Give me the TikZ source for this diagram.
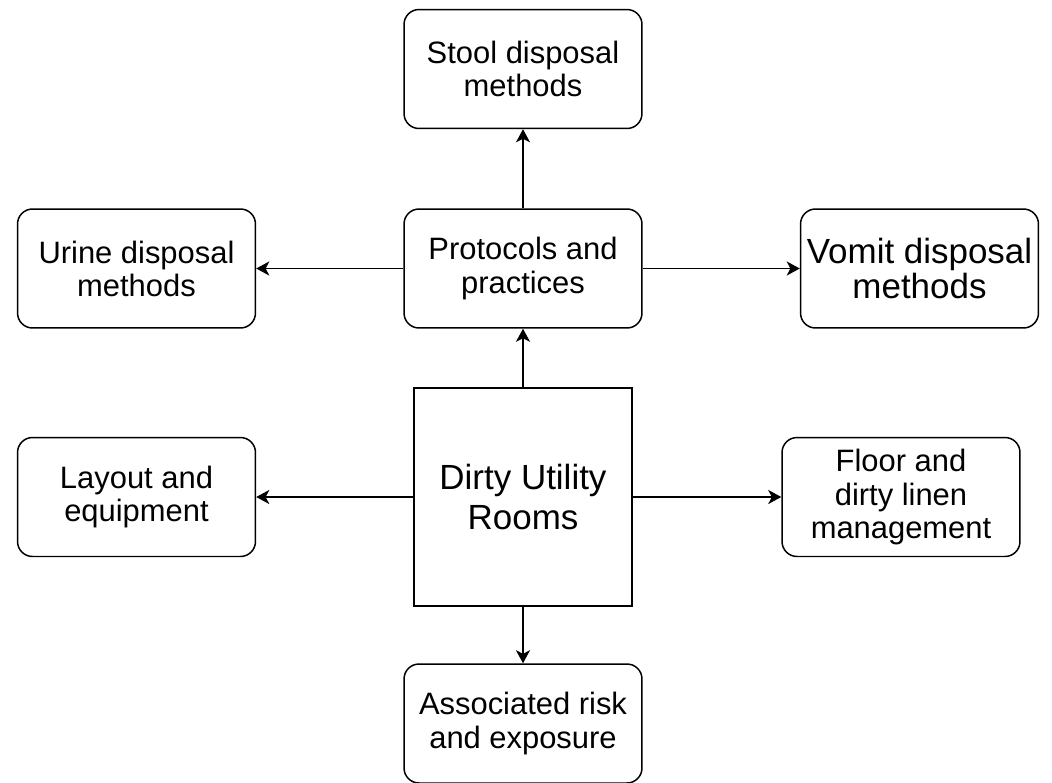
\documentclass[tikz,border=0pt]{standalone}
\usepackage{fontspec}
\setmainfont{Liberation Sans}
\usetikzlibrary{arrows.meta}
\begin{document}
\begin{tikzpicture}[x=0.02cm,y=-0.02cm,
		topic/.style={draw,rounded corners=0.3cm,line width=0.85pt,inner sep=2pt,
			minimum width=4.76cm,minimum height=2.38cm,align=center,
			font=\fontsize{17.6}{18.8}\selectfont},
		conn/.style={-{Stealth[length=0.26cm,width=0.28cm,inset=0.07cm]},line width=0.85pt}]
		\useasboundingbox (0,0) rectangle (1052,782);
		
		\node[draw,line width=0.85pt,minimum size=4.36cm,align=center,
			font=\fontsize{19.9}{22.8}\selectfont] (rooms) at (523,497) {Dirty Utility\\Rooms};
		
		\node[topic] (stool) at (523,69) {Stool disposal\\methods};
		\node[topic] (protocols) at (523,268.5) {Protocols and\\practices};
		\node[topic] (urine) at (136.5,268.5) {Urine disposal\\methods};
		\node[topic,font=\fontsize{19.9}{19.9}\selectfont] (vomit) at (919.5,268.5) {Vomit disposal\\methods};
		\node[topic] (layout) at (136.5,497) {Layout and\\equipment};
		\node[topic] (floor) at (901,497) {Floor and\\dirty linen\\management};
		\node[topic] (risk) at (523,723.5) {Associated risk\\and exposure};
		
		\draw[conn] (protocols) -- (stool);
		\draw[conn] (rooms) -- (protocols);
		\draw[conn] (protocols) -- (urine);
		\draw[conn] (protocols) -- (vomit);
		\draw[conn] (rooms) -- (layout);
		\draw[conn] (rooms) -- (floor);
		\draw[conn] (rooms) -- (risk);
	\end{tikzpicture}
\end{document}
